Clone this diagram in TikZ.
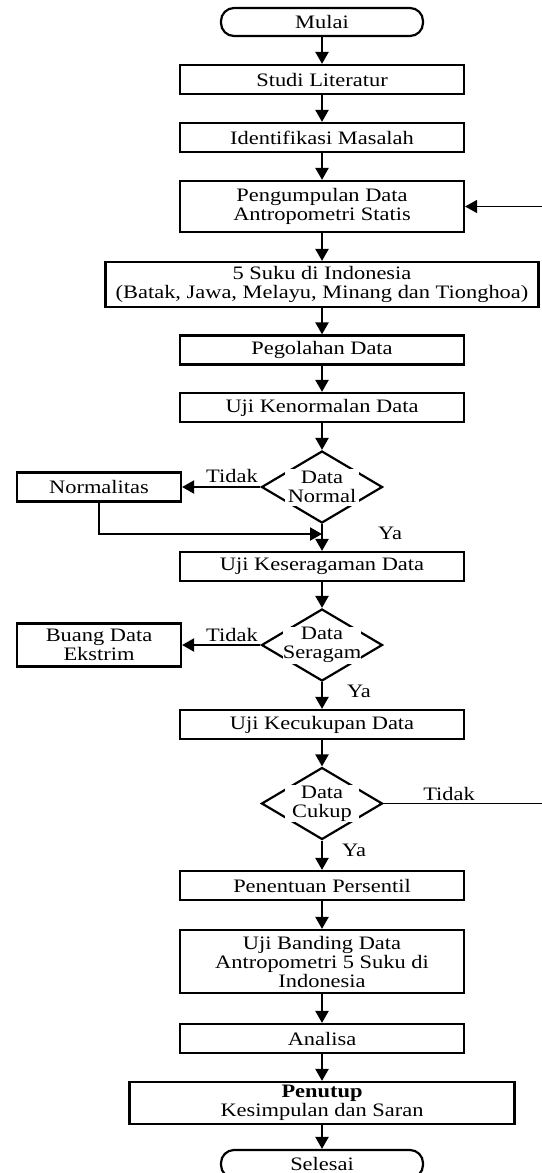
\documentclass[tikz,border=0pt]{standalone}
\usepackage{fontspec}
\setmainfont{Liberation Serif}[FakeStretch=1.18]
\usepackage{tikz}
\tikzset{every node/.style={align=center,inner sep=0pt}}
\tikzset{box/.style={rectangle,draw,line width=2.2pt,minimum width=284pt,minimum height=29pt}}
\tikzset{term/.style={box,rounded corners=13pt,minimum width=202pt,minimum height=28pt}}
\tikzset{dec/.style={diamond,draw,line width=2.2pt,minimum width=121pt,minimum height=72pt}}
\tikzset{dtext/.style={fill=white,minimum width=74pt,minimum height=37pt}}
\tikzset{arr/.style={->,line width=2.2pt}}
\usetikzlibrary{shapes.geometric,arrows.meta}

\begin{document}
\begin{tikzpicture}[x=1pt,y=-1pt,font=\fontsize{19}{19}\selectfont,>={Triangle[length=12pt,width=13pt]}]
\useasboundingbox (0,0) rectangle (541,1173);
\node[term](mulai) at (322,22) {Mulai};
\node[box](studi) at (322,79.5) {Studi Literatur};
\node[box](identifikasi) at (322,137.5) {Identifikasi Masalah};
\node[box,minimum height=51pt](pengumpulan) at (322,206.5) {Pengumpulan Data\\Antropometri Statis};
\node[box,minimum width=433pt,minimum height=45pt](suku) at (322,284.5) {5 Suku di Indonesia\\(Batak, Jawa, Melayu, Minang dan Tionghoa)};
\node[box](pegolahan) at (322,350) {Pegolahan Data};
\node[box](kenormalan) at (322,407.5) {Uji Kenormalan Data};
\node[dec](normal) at (322,487) {};
\node[dtext](normaltxt) at (normal) {Data\\Normal};
\node[box,minimum width=164pt](normalitas) at (99,487) {Normalitas};
\coordinate (join) at (322,534);
\node[box](keseragaman) at (322,566.5) {Uji Keseragaman Data};
\node[dec](seragam) at (322,645) {};
\node[dtext](seragamtxt) at (seragam) {Data\\Seragam};
\node[box,minimum width=164pt,minimum height=43pt](buang) at (99,645) {Buang Data\\Ekstrim};
\node[box](kecukupan) at (322,724.5) {Uji Kecukupan Data};
\node[dec](cukup) at (322,803.5) {};
\node[dtext](cukuptxt) at (cukup) {Data\\Cukup};
\coordinate (balik) at (550,803.5);
\node[box](persentil) at (322,885.5) {Penentuan Persentil};
\node[box,minimum height=63pt](banding) at (322,961.5) {Uji Banding Data\\Antropometri 5 Suku di\\Indonesia};
\node[box](analisa) at (322,1038.5) {Analisa};
\node[box,minimum width=385pt,minimum height=42pt](penutup) at (322,1103) {\textbf{Penutup}\\Kesimpulan dan Saran};
\node[term](selesai) at (322,1164) {Selesai};

\node(tidak1) at (232,476) {Tidak};
\node(ya1) at (390,533) {Ya};
\node(tidak2) at (232,635) {Tidak};
\node(ya2) at (359,691) {Ya};
\node(tidak3) at (449,794) {Tidak};
\node(ya3) at (354,850) {Ya};

\draw[arr] (mulai) -- (studi);
\draw[arr] (studi) -- (identifikasi);
\draw[arr] (identifikasi) -- (pengumpulan);
\draw[arr] (pengumpulan) -- (suku);
\draw[arr] (suku) -- (pegolahan);
\draw[arr] (pegolahan) -- (kenormalan);
\draw[arr] (kenormalan) -- (normal);
\draw[arr] (normal) -- (normalitas);
\draw[arr] (normalitas) |- (join);
\draw[arr] (normal) -- (keseragaman);
\draw[arr] (keseragaman) -- (seragam);
\draw[arr] (seragam) -- (buang);
\draw[arr] (seragam) -- (kecukupan);
\draw[arr] (kecukupan) -- (cukup);
\draw[arr] (cukup) -- (persentil);
\draw[->,line width=1.5pt] (cukup.east) -- (balik) |- (pengumpulan.east);
\draw[arr] (persentil) -- (banding);
\draw[arr] (banding) -- (analisa);
\draw[arr] (analisa) -- (penutup);
\draw[arr] (penutup) -- (selesai);
\end{tikzpicture}
\end{document}
